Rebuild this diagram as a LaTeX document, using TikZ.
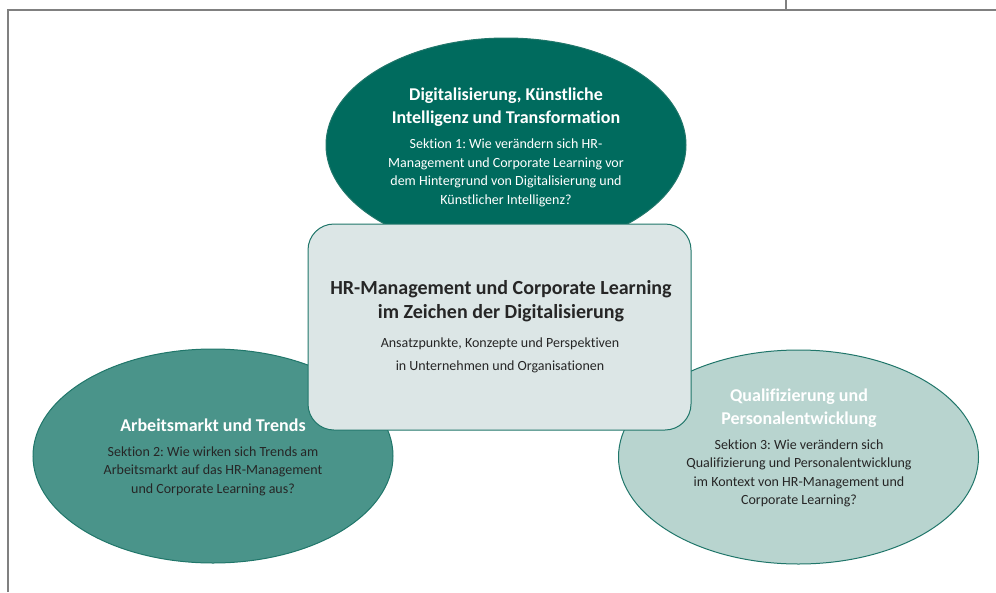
\documentclass[tikz,border=0pt]{standalone}
\usepackage{fontspec}
\setmainfont[Ligatures=NoCommon]{Carlito}
\frenchspacing
\usetikzlibrary{shapes.geometric}
\definecolor{deepteal}{RGB}{0,107,94}
\definecolor{midteal}{RGB}{74,148,138}
\definecolor{paleteal}{RGB}{184,212,207}
\definecolor{boxfill}{RGB}{220,230,230}
\definecolor{edgeteal}{RGB}{32,118,106}
\definecolor{inktext}{RGB}{38,38,38}
\definecolor{framegray}{RGB}{128,128,128}
\tikzset{
  bubble/.style={ellipse, draw=edgeteal, line width=1, inner sep=0,
    minimum width=360, minimum height=214},
  headtxt/.style={align=center, text=white, font=\fontsize{18}{23}\selectfont\bfseries},
  bodytxt/.style={align=center, font=\fontsize{14}{18.5}\selectfont},
  framerule/.style={draw=framegray, line width=2}
}
\begin{document}
\begin{tikzpicture}[x=1pt,y=-1pt]
\useasboundingbox (0,0) rectangle (996,592);
% page frame
\coordinate (fa) at (7.5,592);
\coordinate (fb) at (7.5,9.5);
\coordinate (fc) at (996,9.5);
\coordinate (fd) at (786,0);
\coordinate (fe) at (786,9.5);
\draw[framerule] (fa) -- (fb) -- (fc);
\draw[draw=framegray, line width=1.5] (fd) -- (fe);
% three topic bubbles
\node[bubble, fill=deepteal] (s1) at (506,145) {};
\node[bubble, fill=midteal] (s2) at (213,456) {};
\node[bubble, fill=paleteal] (s3) at (798.5,457) {};
% central box
\node[draw=edgeteal, line width=1, fill=boxfill, rounded corners=26,
  minimum width=383, minimum height=206, inner sep=0] (core) at (499.5,327) {};
% texts
\node[headtxt] (s1h) at (506,107) {Digitalisierung, Künstliche\\Intelligenz und Transformation};
\node[bodytxt, text=white] (s1b) at (506,173) {Sektion 1: Wie verändern sich HR-\\Management und Corporate Learning vor\\dem Hintergrund von Digitalisierung und\\Künstlicher Intelligenz?};
\node[align=center, text=inktext, font=\fontsize{20}{24}\selectfont\bfseries] (coreh) at (501,301) {HR-Management und Corporate Learning\\im Zeichen der Digitalisierung};
\node[align=center, text=inktext, font=\fontsize{14}{23}\selectfont] (coreb) at (500,355) {Ansatzpunkte, Konzepte und Perspektiven\\in Unternehmen und Organisationen};
\node[headtxt] (s2h) at (213,425) {Arbeitsmarkt und Trends};
\node[bodytxt, text=inktext] (s2b) at (213,471) {Sektion 2: Wie wirken sich Trends am\\Arbeitsmarkt auf das HR-Management\\und Corporate Learning aus?};
\node[headtxt] (s3h) at (799,408) {Qualifizierung und\\Personalentwicklung};
\node[bodytxt, text=inktext] (s3b) at (799,473.5) {Sektion 3: Wie verändern sich\\Qualifizierung und Personalentwicklung\\im Kontext von HR-Management und\\Corporate Learning?};
\end{tikzpicture}
\end{document}
